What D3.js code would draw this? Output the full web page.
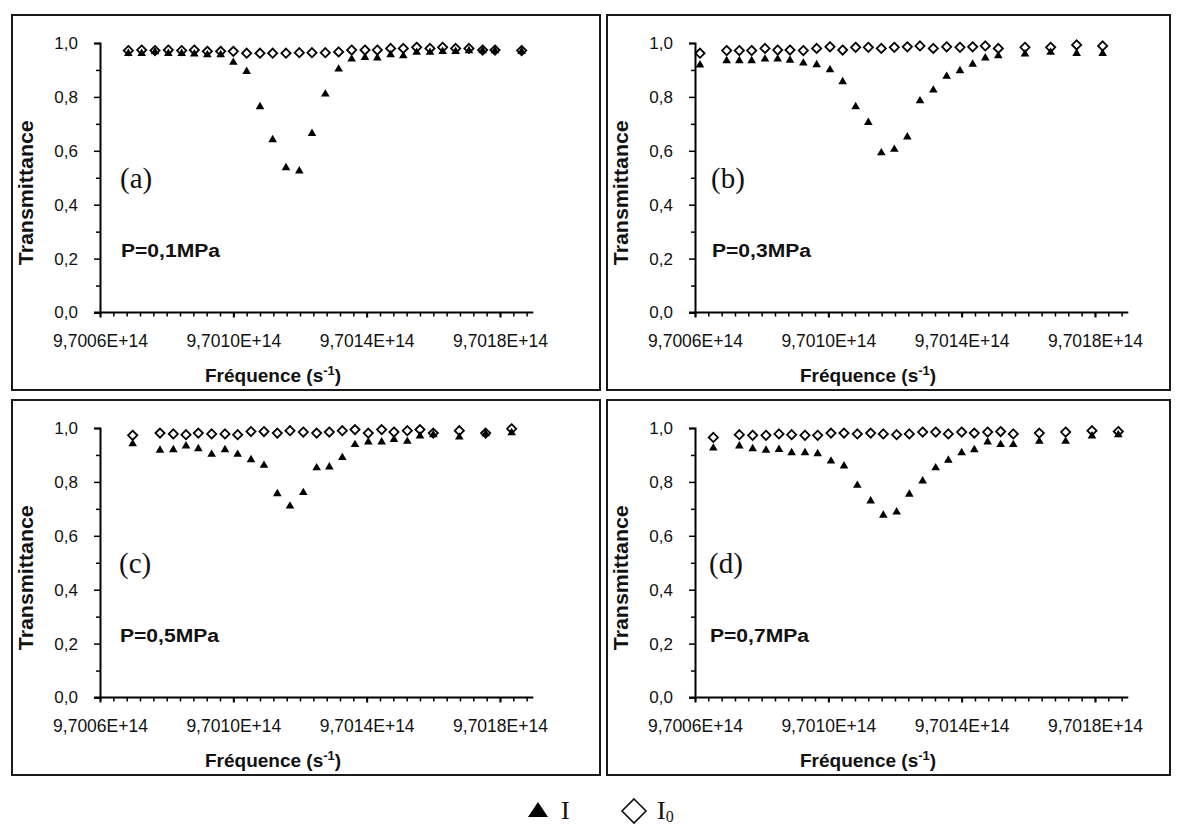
<!DOCTYPE html>
<html><head><meta charset="utf-8">
<script src="https://cdn.jsdelivr.net/npm/d3@7"></script>
<style>body{margin:0;background:#fff}</style>
</head><body><svg id="c" width="1183" height="828"></svg>
<script>
// ---------- data ----------
const panelLabels = ["(a)", "(b)", "(c)", "(d)"];
const pressureLabels = ["P=0,1MPa", "P=0,3MPa", "P=0,5MPa", "P=0,7MPa"];
const seriesNames = ["I", "I0"];

const freqA = [9.700685e14, 9.700725e14, 9.700765e14, 9.700805e14, 9.700845e14, 9.700883e14, 9.700922e14, 9.700962e14, 9.701000e14, 9.701040e14, 9.701080e14, 9.701118e14, 9.701158e14, 9.701198e14, 9.701236e14, 9.701276e14, 9.701316e14, 9.701355e14, 9.701395e14, 9.701432e14, 9.701472e14, 9.701510e14, 9.701550e14, 9.701590e14, 9.701628e14, 9.701667e14, 9.701707e14, 9.701748e14, 9.701785e14, 9.701865e14];
const iA  = [0.964, 0.964, 0.970, 0.964, 0.964, 0.962, 0.959, 0.959, 0.931, 0.897, 0.766, 0.644, 0.540, 0.528, 0.667, 0.813, 0.906, 0.943, 0.949, 0.947, 0.959, 0.955, 0.968, 0.968, 0.971, 0.971, 0.974, 0.974, 0.974, 0.971];
const i0A = [0.972, 0.974, 0.972, 0.974, 0.972, 0.974, 0.969, 0.969, 0.969, 0.962, 0.962, 0.962, 0.962, 0.964, 0.964, 0.964, 0.967, 0.974, 0.974, 0.974, 0.980, 0.980, 0.984, 0.980, 0.984, 0.980, 0.980, 0.974, 0.974, 0.972];

const freqB = [9.700615e14, 9.700695e14, 9.700733e14, 9.700770e14, 9.700810e14, 9.700848e14, 9.700885e14, 9.700925e14, 9.700965e14, 9.701005e14, 9.701043e14, 9.701082e14, 9.701120e14, 9.701159e14, 9.701198e14, 9.701237e14, 9.701275e14, 9.701315e14, 9.701355e14, 9.701395e14, 9.701433e14, 9.701471e14, 9.701510e14, 9.701590e14, 9.701667e14, 9.701745e14, 9.701823e14];
const iB  = [0.921, 0.937, 0.937, 0.937, 0.943, 0.943, 0.939, 0.928, 0.922, 0.903, 0.859, 0.766, 0.708, 0.595, 0.608, 0.654, 0.788, 0.828, 0.879, 0.900, 0.924, 0.947, 0.955, 0.962, 0.968, 0.964, 0.964];
const i0B = [0.962, 0.972, 0.972, 0.972, 0.980, 0.974, 0.974, 0.972, 0.980, 0.986, 0.974, 0.984, 0.984, 0.980, 0.984, 0.986, 0.989, 0.980, 0.986, 0.984, 0.986, 0.989, 0.980, 0.984, 0.984, 0.993, 0.989];

const freqC = [9.700698e14, 9.700780e14, 9.700820e14, 9.700858e14, 9.700895e14, 9.700935e14, 9.700975e14, 9.701013e14, 9.701053e14, 9.701092e14, 9.701132e14, 9.701170e14, 9.701210e14, 9.701250e14, 9.701288e14, 9.701327e14, 9.701365e14, 9.701405e14, 9.701445e14, 9.701482e14, 9.701522e14, 9.701560e14, 9.701600e14, 9.701678e14, 9.701757e14, 9.701835e14];
const iC  = [0.944, 0.920, 0.922, 0.936, 0.926, 0.905, 0.922, 0.905, 0.885, 0.864, 0.759, 0.713, 0.763, 0.855, 0.858, 0.893, 0.941, 0.951, 0.951, 0.960, 0.953, 0.973, 0.978, 0.969, 0.981, 0.985];
const i0C = [0.973, 0.981, 0.978, 0.975, 0.981, 0.978, 0.978, 0.975, 0.987, 0.987, 0.981, 0.990, 0.985, 0.981, 0.985, 0.990, 0.994, 0.981, 0.994, 0.985, 0.990, 0.994, 0.981, 0.990, 0.981, 0.997];

const freqD = [9.700655e14, 9.700733e14, 9.700773e14, 9.700813e14, 9.700852e14, 9.700890e14, 9.700930e14, 9.700968e14, 9.701008e14, 9.701047e14, 9.701087e14, 9.701127e14, 9.701165e14, 9.701205e14, 9.701243e14, 9.701283e14, 9.701322e14, 9.701360e14, 9.701400e14, 9.701438e14, 9.701478e14, 9.701517e14, 9.701555e14, 9.701633e14, 9.701712e14, 9.701791e14, 9.701870e14];
const iD  = [0.928, 0.936, 0.926, 0.920, 0.923, 0.911, 0.911, 0.907, 0.880, 0.862, 0.790, 0.732, 0.679, 0.691, 0.757, 0.806, 0.855, 0.883, 0.911, 0.922, 0.951, 0.941, 0.941, 0.953, 0.953, 0.973, 0.978];
const i0D = [0.965, 0.975, 0.973, 0.973, 0.978, 0.975, 0.973, 0.973, 0.981, 0.981, 0.978, 0.981, 0.978, 0.975, 0.978, 0.985, 0.985, 0.978, 0.985, 0.981, 0.985, 0.987, 0.978, 0.981, 0.985, 0.990, 0.987];

const xMajorTicks = [9.7006e14, 9.7010e14, 9.7014e14, 9.7018e14];
const xMinorStep = 4e9;
const xDomain = [9.7006e14, 9.7019e14];
const yTicks = [0, 0.2, 0.4, 0.6, 0.8, 1.0];
const yMinorTicks = [0.1, 0.3, 0.5, 0.7, 0.9];
const yDomain = [0, 1];

const xTitle = "Fréquence";
const yTitle = "Transmittance";

// ---------- layout ----------
const panels = [
  {x: 12,  y: 15,  w: 588, h: 375, f: freqA, i: iA, i0: i0A, lx: 108},
  {x: 607, y: 15,  w: 563, h: 375, f: freqB, i: iB, i0: i0B, lx: 104},
  {x: 12,  y: 400, w: 588, h: 375, f: freqC, i: iC, i0: i0C, lx: 107},
  {x: 607, y: 400, w: 563, h: 375, f: freqD, i: iD, i0: i0D, lx: 102}
];

const svg = d3.select("#c");
const SANS = "'Liberation Sans', Arial, sans-serif";
const SERIF = "'Liberation Serif', 'Times New Roman', serif";

const x = d3.scaleLinear().domain(xDomain).range([88, 88 + 433.3]);
const y = d3.scaleLinear().domain(yDomain).range([297.5, 28]);

const fmtX = d => d.toExponential(4).replace(".", ",").replace("e+", "E+");
const fmtY = d => d.toFixed(1).replace(".", ",");

const triPath = "M0,-4.2L4.3,3.2L-4.3,3.2Z";
const diaPath = "M0,-4.6L4.6,0L0,4.6L-4.6,0Z";

const xMinor = d3.range(xDomain[0], xDomain[1] - 1e9, xMinorStep);

panels.forEach((p, k) => {
  const g = svg.append("g").attr("transform", `translate(${p.x},${p.y})`);
  g.append("rect").attr("x", 0).attr("y", 0).attr("width", p.w).attr("height", p.h)
    .attr("fill", "none").attr("stroke", "#1a1a1a").attr("stroke-width", 2);

  // y axis
  const yAxis = d3.axisLeft(y).tickValues(yTicks).tickFormat(fmtY).tickSize(6).tickPadding(16);
  const ya = g.append("g").attr("transform", `translate(${x.range()[0]},0)`).call(yAxis);
  ya.select(".domain").attr("stroke", "#000").attr("stroke-width", 2);
  ya.selectAll(".tick line").attr("stroke", "#000").attr("stroke-width", 1.5);
  ya.selectAll(".tick text").attr("font-family", SANS).attr("font-size", 17).attr("fill", "#111");
  const yAxisMinor = d3.axisLeft(y).tickValues(yMinorTicks).tickFormat("").tickSize(4);
  const yam = g.append("g").attr("transform", `translate(${x.range()[0]},0)`).call(yAxisMinor);
  yam.select(".domain").remove();
  yam.selectAll(".tick line").attr("stroke", "#000").attr("stroke-width", 1.5);

  // x axis
  const xAxis = d3.axisBottom(x).tickValues(xMajorTicks).tickFormat(fmtX).tickSize(5).tickPadding(17);
  const xa = g.append("g").attr("transform", `translate(0,${y.range()[0]})`).call(xAxis);
  xa.select(".domain").attr("stroke", "#000").attr("stroke-width", 2).attr("d", `M${x.range()[0] - 6},0H${x.range()[1]}`);
  xa.selectAll(".tick line").attr("stroke", "#000").attr("stroke-width", 2);
  xa.selectAll(".tick text").attr("font-family", SANS).attr("font-size", 17.5).attr("fill", "#111");
  const xAxisMinor = d3.axisBottom(x).tickValues(xMinor).tickFormat("").tickSize(4);
  const xam = g.append("g").attr("transform", `translate(0,${y.range()[0]})`).call(xAxisMinor);
  xam.select(".domain").remove();
  xam.selectAll(".tick line").attr("stroke", "#000").attr("stroke-width", 1.5);

  // titles
  g.append("text").attr("transform", `translate(21,${(y.range()[0] + y.range()[1]) / 2 + 15}) rotate(-90)`)
    .attr("text-anchor", "middle").attr("font-family", SANS).attr("font-weight", "bold")
    .attr("font-size", 20).attr("fill", "#111")
    .attr("textLength", 145).attr("lengthAdjust", "spacingAndGlyphs").text(yTitle);

  const xt = g.append("text").attr("x", 193).attr("y", 367).attr("font-family", SANS)
    .attr("font-weight", "bold").attr("font-size", 19).attr("fill", "#111");
  xt.append("tspan").text(xTitle + " (s");
  xt.append("tspan").attr("dy", -7).attr("font-size", 13).text("-1");
  xt.append("tspan").attr("dy", 7).text(")");

  g.append("text").attr("x", p.lx).attr("y", 173).attr("font-family", SERIF)
    .attr("font-size", 29).attr("fill", "#111").text(panelLabels[k]);
  g.append("text").attr("x", p.lx + 1).attr("y", 242).attr("font-family", SANS)
    .attr("font-weight", "bold").attr("font-size", 18).attr("fill", "#111")
    .attr("textLength", 99).attr("lengthAdjust", "spacingAndGlyphs").text(pressureLabels[k]);

  // data
  const pts = p.f.map((f, j) => ({f, i: p.i[j], i0: p.i0[j]}));
  g.append("g").selectAll("path").data(pts).join("path")
    .attr("d", triPath).attr("fill", "#000")
    .attr("transform", d => `translate(${x(d.f)},${y(d.i)})`);
  g.append("g").selectAll("path").data(pts).join("path")
    .attr("d", diaPath).attr("fill", "none").attr("stroke", "#000").attr("stroke-width", 1.8)
    .attr("transform", d => `translate(${x(d.f)},${y(d.i0)})`);
});

// legend
const lg = svg.append("g");
lg.append("path").attr("d", "M0,-8L10,7L-10,7Z").attr("fill", "#000").attr("transform", "translate(538,810)");
lg.append("text").attr("x", 561).attr("y", 819).attr("font-family", SERIF).attr("font-size", 26).attr("fill", "#111").text(seriesNames[0]);
lg.append("path").attr("d", "M0,-12L12,0L0,12L-12,0Z").attr("fill", "none").attr("stroke", "#111").attr("stroke-width", 1.6).attr("transform", "translate(634,811)");
const l2 = lg.append("text").attr("x", 657).attr("y", 819).attr("font-family", SERIF).attr("font-size", 26).attr("fill", "#111");
l2.append("tspan").text("I");
l2.append("tspan").attr("dy", 3).attr("font-size", 16).text("0");
</script>
</body></html>
